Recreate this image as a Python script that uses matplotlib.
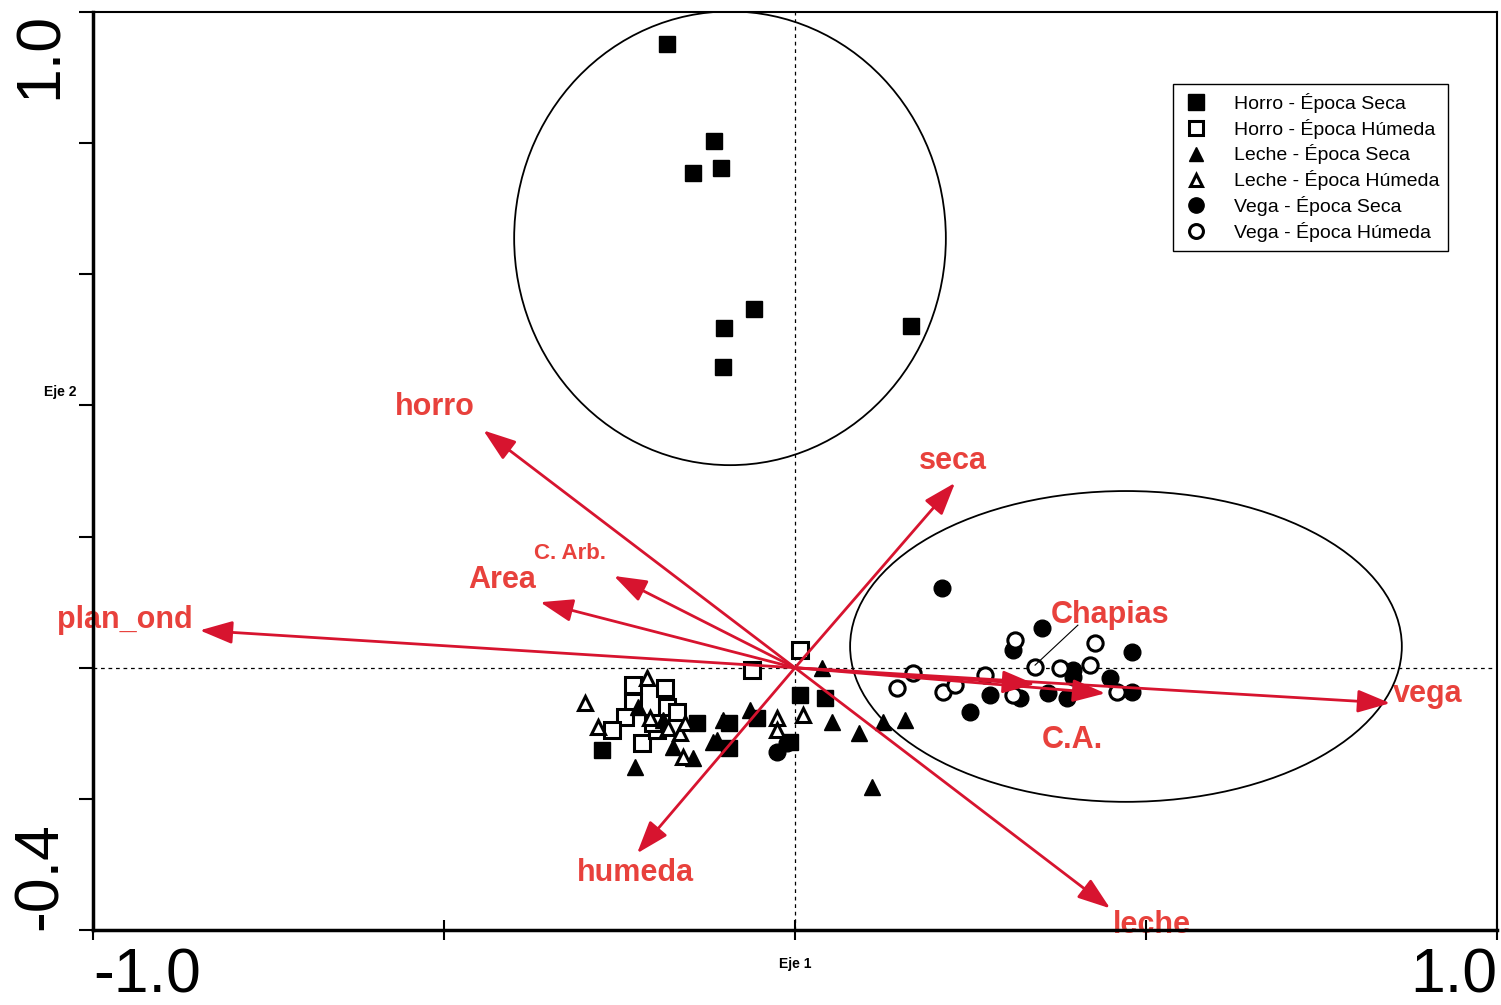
import matplotlib
matplotlib.use("Agg")
import matplotlib.pyplot as plt
from matplotlib.patches import Ellipse
from matplotlib.lines import Line2D

plt.rcParams['font.family'] = ['Liberation Sans', 'DejaVu Sans']

# ---- data ----
horro_seca_x = [-0.182, -0.115, -0.145, -0.105, -0.058, -0.101, -0.103, 0.165,
                0.007, 0.043, -0.140, -0.275, -0.094, -0.094, -0.054, -0.007]
horro_seca_y = [0.951, 0.803, 0.754, 0.762, 0.547, 0.518, 0.459, 0.521,
                -0.042, -0.046, -0.084, -0.126, -0.084, -0.123, -0.077, -0.113]

horro_hum_x = [0.007, -0.061, -0.231, -0.185, -0.231, -0.182, -0.168, -0.242,
               -0.261, -0.218, -0.197, -0.202]
horro_hum_y = [0.027, -0.004, -0.026, -0.031, -0.052, -0.060, -0.068, -0.075,
               -0.095, -0.115, -0.095, -0.085]

leche_seca_x = [0.038, 0.053, -0.224, -0.228, -0.111, -0.103, -0.064, -0.145,
                -0.174, 0.125, 0.157, 0.091, 0.110, -0.117, -0.188]
leche_seca_y = [0.000, -0.083, -0.060, -0.151, -0.110, -0.080, -0.065, -0.138,
                -0.121, -0.083, -0.080, -0.100, -0.182, -0.113, -0.080]

leche_hum_x = [-0.211, -0.299, -0.281, 0.011, -0.026, -0.026, -0.160, -0.207,
               -0.181, -0.164, -0.157]
leche_hum_y = [-0.016, -0.054, -0.090, -0.072, -0.077, -0.095, -0.136, -0.077,
               -0.092, -0.100, -0.084]

vega_seca_x = [0.209, 0.352, 0.311, 0.480, 0.396, 0.396, 0.449, 0.278, 0.321,
               0.360, 0.387, 0.480, 0.249, -0.026, -0.011]
vega_seca_y = [0.122, 0.061, 0.027, 0.024, -0.004, -0.014, -0.016, -0.042, -0.046,
               -0.039, -0.046, -0.037, -0.068, -0.129, -0.115]

vega_hum_x = [0.313, 0.427, 0.342, 0.378, 0.420, 0.271, 0.168, 0.145, 0.211,
              0.228, 0.311, 0.459]
vega_hum_y = [0.042, 0.038, 0.001, 0.000, 0.004, -0.011, -0.008, -0.031, -0.037,
              -0.026, -0.042, -0.037]

# environmental vectors
vec_names = ['horro', 'seca', 'C. Arb.', 'Area', 'plan_ond', 'Chapias', 'C.A.',
             'vega', 'humeda', 'leche']
vec_x = [-0.444, 0.228, -0.258, -0.363, -0.848, 0.342, 0.442, 0.848, -0.225, 0.449]
vec_y = [0.362, 0.282, 0.140, 0.100, 0.057, -0.025, -0.039, -0.054, -0.283, -0.367]
label_x = [-0.513, 0.225, -0.321, -0.417, -0.954, 0.449, 0.395, 0.902, -0.228, 0.509]
label_y = [0.397, 0.315, 0.175, 0.134, 0.073, 0.080, -0.110, -0.040, -0.313, -0.392]

legend_labels = ['Horro - Época Seca', 'Horro - Época Húmeda', 'Leche - Época Seca',
                 'Leche - Época Húmeda', 'Vega - Época Seca', 'Vega - Época Húmeda']

# ---- figure ----
fig = plt.figure(figsize=(15.01, 10.05), dpi=100)
ax = fig.add_axes([0.062, 0.0746, 0.9353, 0.9134])
ax.set_xlim(-1.0, 1.0)
ax.set_ylim(-0.4, 1.0)

ax.axhline(0, color='black', lw=0.9, ls=(0, (3, 3)), zorder=1)
ax.axvline(0, color='black', lw=0.9, ls=(0, (3, 3)), zorder=1)

# ellipses
ax.add_patch(Ellipse((-0.0926, 0.655), 0.615, 0.692, fill=False, ec='black', lw=1.3, zorder=2))
ax.add_patch(Ellipse((0.4715, 0.0325), 0.786, 0.474, fill=False, ec='black', lw=1.3, zorder=2))

ms = 12
ew = 2.2
ax.plot(horro_seca_x, horro_seca_y, ls='none', marker='s', ms=ms, mfc='black', mec='black', zorder=3)
ax.plot(horro_hum_x, horro_hum_y, ls='none', marker='s', ms=ms-1, mfc='white', mec='black', mew=ew, zorder=3)
ax.plot(leche_seca_x, leche_seca_y, ls='none', marker='^', ms=ms-1, mfc='black', mec='black', zorder=3)
ax.plot(leche_hum_x, leche_hum_y, ls='none', marker='^', ms=ms-2, mfc='white', mec='black', mew=ew, zorder=3)
ax.plot(vega_seca_x, vega_seca_y, ls='none', marker='o', ms=ms, mfc='black', mec='black', zorder=3)
ax.plot(vega_hum_x, vega_hum_y, ls='none', marker='o', ms=ms-1, mfc='white', mec='black', mew=ew, zorder=3)

arrow_col = '#d7142f'
label_col = '#e8413c'
for name, vx, vy, lx, ly in zip(vec_names, vec_x, vec_y, label_x, label_y):
    ax.annotate('', xy=(vx, vy), xytext=(0, 0),
                arrowprops=dict(arrowstyle='-|>,head_length=1.0,head_width=0.35',
                                color=arrow_col, lw=2, shrinkA=0, shrinkB=0,
                                mutation_scale=20), zorder=4)
    fs = 16 if name == 'C. Arb.' else 22
    ax.text(lx, ly, name, color=label_col, fontsize=fs, fontweight='bold',
            ha='center', va='center', zorder=1.5, clip_on=False)

# leader line for Chapias
ax.plot([0.403, 0.342], [0.065, 0.004], color='black', lw=0.8, zorder=5)

# axes styling
for s in ax.spines.values():
    s.set_linewidth(1.5)
    s.set_zorder(6)
ax.spines['bottom'].set_linewidth(2.5)
ax.spines['left'].set_linewidth(2.5)

ax.set_xticks([-1.0, -0.5, 0.0, 0.5, 1.0])
ax.set_xticklabels(['-1.0', '', '', '', '1.0'])
ax.set_yticks([-0.4, -0.2, 0.0, 0.2, 0.4, 0.6, 0.8, 1.0])
ax.set_yticklabels(['-0.4', '', '', '', '', '', '', '1.0'])
ax.tick_params(axis='x', direction='inout', length=14, width=1.5, labelsize=45, pad=5)
ax.tick_params(axis='y', direction='out', length=10, width=1.5, labelsize=45, pad=7)
ylabs = ax.get_yticklabels()
for lab in ylabs:
    lab.set_rotation(90)
    lab.set_va('center')
ylabs[0].set_va('bottom')
ylabs[-1].set_va('top')
xlabs = ax.get_xticklabels()
xlabs[0].set_ha('left')
xlabs[-1].set_ha('right')

ax.text(0.0, -0.452, 'Eje 1', fontsize=10, fontweight='bold', ha='center', va='center')
ax.text(-1.047, 0.42, 'Eje 2', fontsize=10, fontweight='bold', ha='center', va='center')

handles = [
    Line2D([], [], ls='none', marker='s', ms=11, mfc='black', mec='black'),
    Line2D([], [], ls='none', marker='s', ms=10, mfc='white', mec='black', mew=2.2),
    Line2D([], [], ls='none', marker='^', ms=10, mfc='black', mec='black'),
    Line2D([], [], ls='none', marker='^', ms=9, mfc='white', mec='black', mew=2.2),
    Line2D([], [], ls='none', marker='o', ms=11, mfc='black', mec='black'),
    Line2D([], [], ls='none', marker='o', ms=10, mfc='white', mec='black', mew=2.2),
]
leg = ax.legend(handles, legend_labels, loc='upper left',
                bbox_to_anchor=((1173 - 93) / 1404, (930 - 84) / 918),
                fontsize=14, frameon=True, fancybox=False, edgecolor='black',
                framealpha=1, borderpad=0.45, labelspacing=0.3, handletextpad=1.2,
                handlelength=1.5, borderaxespad=0)
leg.get_frame().set_linewidth(1.0)

fig.savefig('out.png', dpi=100)
